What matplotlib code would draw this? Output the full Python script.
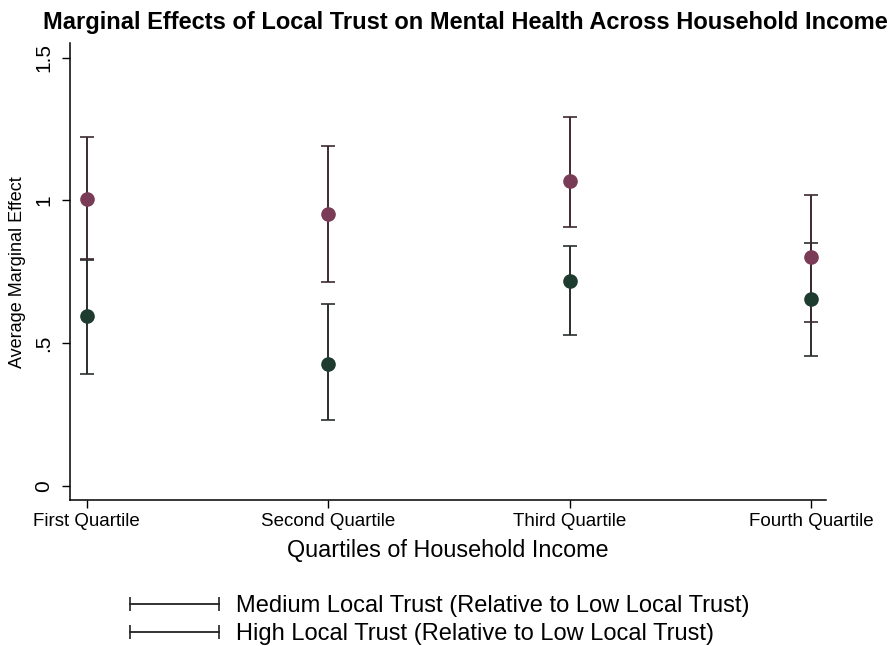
import numpy as np
import matplotlib.pyplot as plt
from matplotlib.lines import Line2D

plt.rcParams['font.family'] = ['Liberation Sans', 'DejaVu Sans']

quartiles = ["First Quartile", "Second Quartile", "Third Quartile", "Fourth Quartile"]

# average marginal effects with 95% CI bounds
medium_ame = [0.593, 0.425, 0.718, 0.653]
medium_lo = [0.393, 0.232, 0.527, 0.454]
medium_hi = [0.792, 0.636, 0.841, 0.852]

high_ame = [1.005, 0.952, 1.069, 0.800]
high_lo = [0.794, 0.715, 0.905, 0.574]
high_hi = [1.221, 1.190, 1.290, 1.020]

y_ticks = [0, 0.5, 1, 1.5]
y_ticklabels = ["0", ".5", "1", "1.5"]

medium_col = "#1e3b30"
high_col = "#7a3b56"


def draw_series(ax, x, est, lo, hi, col, linecol):
    est = np.array(est)
    err = [est - np.array(lo), np.array(hi) - est]
    ax.errorbar(x, est, yerr=err, fmt='none', ecolor=linecol, elinewidth=1.4,
                capsize=5, capthick=1.2, zorder=2)
    ax.plot(x, est, 'o', color=col, markersize=9.5, zorder=3)


fig = plt.figure(figsize=(8.89, 6.46), dpi=100)
ax = fig.add_axes([0.0787, 0.226, 0.8503, 0.707])

x = np.arange(1, len(quartiles) + 1)
draw_series(ax, x, medium_ame, medium_lo, medium_hi, medium_col, "#2a2f2c")
draw_series(ax, x, high_ame, high_lo, high_hi, high_col, "#3d2a33")

ax.set_xlim(0.93, 4.062)
ax.set_ylim(-0.05, 1.55)
ax.set_xticks(x)
ax.set_xticklabels(quartiles, fontsize=13.5)
ax.set_yticks(y_ticks)
ax.set_yticklabels(y_ticklabels, fontsize=15, rotation=90, va='center')
ax.tick_params(axis='y', length=6, width=1, pad=6)
ax.tick_params(axis='x', length=6, width=1, pad=3)

for s in ['top', 'right']:
    ax.spines[s].set_visible(False)
for s in ['left', 'bottom']:
    ax.spines[s].set_linewidth(1.1)

ax.set_ylabel("Average Marginal Effect", fontsize=13, labelpad=6)
ax.set_xlabel("Quartiles of Household Income", fontsize=16.8, labelpad=7)

fig.text(0.524, 1 - 23 / 646, "Marginal Effects of Local Trust on Mental Health Across Household Income",
         ha='center', va='center', fontsize=17, fontweight='bold')

handles = [
    Line2D([], [], color="#222222", lw=1.3, marker='|', markersize=10, markeredgewidth=1.2),
    Line2D([], [], color="#222222", lw=1.3, marker='|', markersize=10, markeredgewidth=1.2),
]
labels = ["Medium Local Trust (Relative to Low Local Trust)",
          "High Local Trust (Relative to Low Local Trust)"]
fig.legend(handles, labels, loc='center', bbox_to_anchor=(0.491, 1 - 620 / 646),
           frameon=False, fontsize=17, numpoints=2, handlelength=4.35,
           handletextpad=0.45, labelspacing=0.25, markerscale=1.0)

fig.savefig("out.png", dpi=100)
